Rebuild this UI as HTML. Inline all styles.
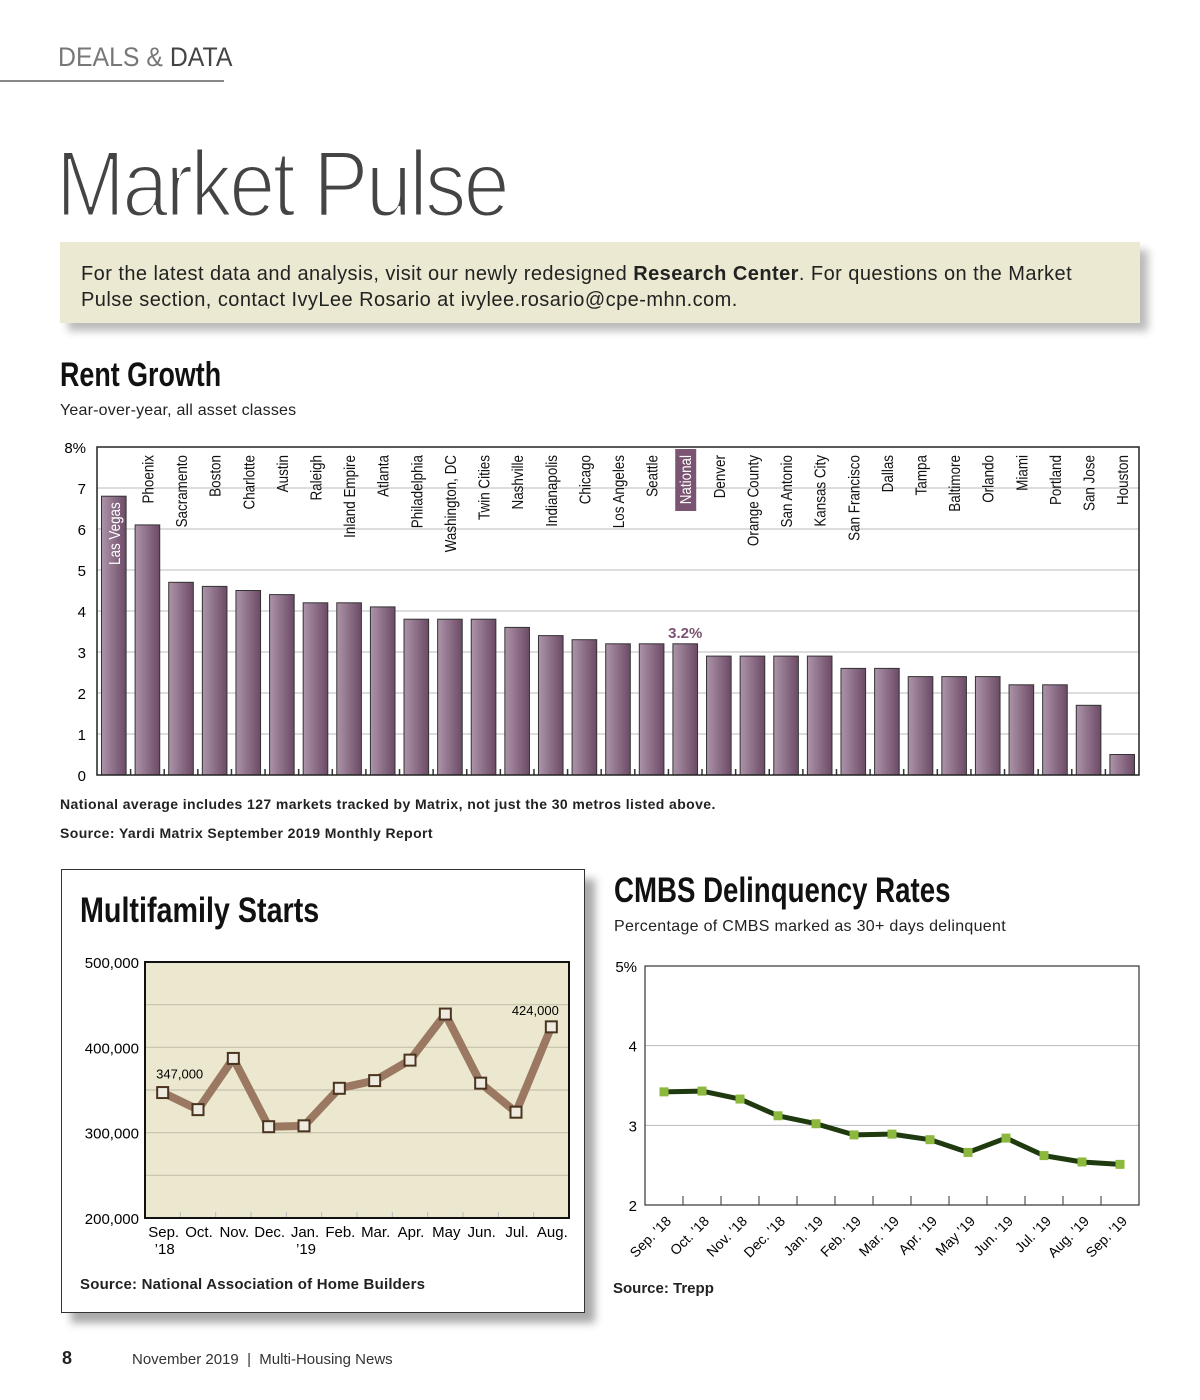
<!DOCTYPE html>
<html><head><meta charset="utf-8">
<style>
body{margin:0;width:1200px;height:1400px;background:#fff;position:relative;overflow:hidden;font-family:"Liberation Sans",sans-serif;color:#222}
.a{position:absolute;white-space:nowrap}
.nar{transform-origin:0 0}
</style></head><body>
<div class="a" style="left:58px;top:42px;font-size:27px;color:#777;letter-spacing:0px;transform:scaleX(0.92);transform-origin:0 0">DEALS &amp; <span style="color:#444">DATA</span></div>
<div class="a" style="left:0;top:80px;width:224px;height:2px;background:#888"></div>
<div class="a" style="left:56px;top:130px;font-size:94px;color:#444;letter-spacing:-3px;-webkit-text-stroke:3px #fff;paint-order:normal;transform:scaleX(0.88);transform-origin:0 0">Market Pulse</div>
<div class="a" style="left:60px;top:242px;width:1080px;height:81px;background:#ebe9d1;box-shadow:8px 8px 8px #bbb"></div>
<div class="a" style="left:81px;top:261px;font-size:20px;line-height:26px;color:#222;letter-spacing:0.45px">For the latest data and analysis, visit our newly redesigned <b>Research Center</b>. For questions on the Market<br>Pulse section, contact IvyLee Rosario at ivylee.rosario@cpe-mhn.com.</div>
<div class="a nar" style="left:60px;top:356px;font-size:34px;font-weight:bold;color:#111;transform:scaleX(0.79)">Rent Growth</div>
<div class="a" style="left:60px;top:402px;font-size:16px;letter-spacing:0.2px">Year-over-year, all asset classes</div>
<div class="a" style="left:60px;top:796px;font-size:14px;font-weight:bold;letter-spacing:0.4px">National average includes 127 markets tracked by Matrix, not just the 30 metros listed above.</div>
<div class="a" style="left:60px;top:825px;font-size:14px;font-weight:bold;letter-spacing:0.4px">Source: Yardi Matrix September 2019 Monthly Report</div>
<div class="a" style="left:61px;top:869px;width:522px;height:442px;border:1px solid #333;box-shadow:10px 10px 8px #aaa;background:#fff"></div>
<div class="a nar" style="left:80px;top:891px;font-size:35px;font-weight:bold;color:#111;transform:scaleX(0.82)">Multifamily Starts</div>
<div class="a" style="left:80px;top:1276px;font-size:15px;font-weight:bold;letter-spacing:0.2px">Source: National Association of Home Builders</div>
<div class="a nar" style="left:614px;top:871px;font-size:35px;font-weight:bold;color:#111;transform:scaleX(0.79)">CMBS Delinquency Rates</div>
<div class="a" style="left:614px;top:918px;font-size:16px;letter-spacing:0.3px">Percentage of CMBS marked as 30+ days delinquent</div>
<div class="a" style="left:613px;top:1280px;font-size:15px;font-weight:bold">Source: Trepp</div>
<div class="a" style="left:62px;top:1348px;font-size:18px;font-weight:bold">8</div>
<div class="a" style="left:132px;top:1351px;font-size:15px;color:#333">November 2019 &nbsp;|&nbsp; Multi-Housing News</div>
<svg id="s" width="1200" height="1400" style="position:absolute;left:0;top:0">
<defs><linearGradient id="bg" x1="0" x2="1" y1="0" y2="0"><stop offset="0" stop-color="#ad94a9"/><stop offset="1" stop-color="#6c4a66"/></linearGradient></defs>
</svg>
<script>
const rentCities=["Las Vegas","Phoenix","Sacramento","Boston","Charlotte","Austin","Raleigh","Inland Empire","Atlanta","Philadelphia","Washington, DC","Twin Cities","Nashville","Indianapolis","Chicago","Los Angeles","Seattle","National","Denver","Orange County","San Antonio","Kansas City","San Francisco","Dallas","Tampa","Baltimore","Orlando","Miami","Portland","San Jose","Houston"];
const rentValues=[6.8,6.1,4.7,4.6,4.5,4.4,4.2,4.2,4.1,3.8,3.8,3.8,3.6,3.4,3.3,3.2,3.2,3.2,2.9,2.9,2.9,2.9,2.6,2.6,2.4,2.4,2.4,2.2,2.2,1.7,0.5];
const rentTicks=["0","1","2","3","4","5","6","7","8%"];
const startMonths=["Sep.","Oct.","Nov.","Dec.","Jan.","Feb.","Mar.","Apr.","May","Jun.","Jul.","Aug."];
const startYears=["’18","","","","’19","","","","","","",""];
const startValues=[347000,327000,387000,307000,308000,352000,361000,385000,439000,358000,324000,424000];
const startTicks=["200,000","300,000","400,000","500,000"];
const cmbsMonths=["Sep. ’18","Oct. ’18","Nov. ’18","Dec. ’18","Jan. ’19","Feb. ’19","Mar. ’19","Apr. ’19","May ’19","Jun. ’19","Jul. ’19","Aug. ’19","Sep. ’19"];
const cmbsValues=[3.42,3.43,3.33,3.12,3.02,2.88,2.89,2.82,2.66,2.84,2.62,2.54,2.51];
const cmbsTicks=["2","3","4","5%"];
const S=document.getElementById('s'),NS="http://www.w3.org/2000/svg";
function mk(t,a,txt){const e=document.createElementNS(NS,t);for(const k in a)e.setAttribute(k,a[k]);if(txt!=null)e.textContent=txt;S.appendChild(e);return e;}
// Rent growth
{const L=97,R=1139,T=447,B=775,n=rentCities.length,bw=(R-L)/n;
const y=v=>B-(v/8)*(B-T),x=i=>L+i*bw;
for(let k=1;k<8;k++){const g=mk('line',{x1:L,x2:R,y1:y(k),y2:y(k),stroke:'#bbb','stroke-width':1});}
rentTicks.forEach((t,k)=>{const e=mk('text',{x:86,y:y(k)+6,'text-anchor':'end','font-size':15,'font-family':'Liberation Sans'},t);});
rentValues.forEach((v,i)=>{const r=mk('rect',{x:x(i)+4.5,y:y(v),width:bw-9,height:B-y(v),fill:'url(#bg)',stroke:'#333','stroke-width':1});
const cx=x(i)+bw/2;
if(rentCities[i]==="National"){const hb=mk('rect',{x:cx-10,y:T+2,width:21,height:62,fill:'#7a5472'});
const vl=mk('text',{x:cx,y:y(v)-6,'text-anchor':'middle','font-size':15,'font-weight':'bold',fill:'#7a5472'},v.toFixed(1)+'%');}
const inside=i===0;
const lb=mk('text',{transform:inside?`translate(${cx+6},${B-210}) rotate(-90) scale(0.84,1)`:`translate(${cx+6},${T+8}) rotate(-90) scale(0.84,1)`,'text-anchor':inside?'start':'end','font-size':16,fill:(inside||rentCities[i]==="National")?'#fff':'#111'},rentCities[i]);

if(i>0){const tk=mk('line',{x1:x(i),x2:x(i),y1:B,y2:B-6,stroke:'#333','stroke-width':1.5});}});
const fr=mk('rect',{x:L,y:T,width:R-L,height:B-T,fill:'none',stroke:'#222','stroke-width':1.5});}
// Multifamily starts
{const L=145,R=569,T=962,B=1218,n=startValues.length,bw=(R-L)/n;
const y=v=>B-(v-200000)/300000*(B-T),x=i=>L+bw*(i+0.5);
const bgr=mk('rect',{x:L,y:T,width:R-L,height:B-T,fill:'#ece8cf'});
for(let v=250000;v<500000;v+=50000){const g=mk('line',{x1:L,x2:R,y1:y(v),y2:y(v),stroke:'#c4c0aa','stroke-width':1.2});}
for(let i=1;i<n;i++){const t=mk('line',{x1:L+bw*i,x2:L+bw*i,y1:B,y2:B-6,stroke:'#bbb','stroke-width':1});}
startTicks.forEach((t,k)=>{const e=mk('text',{x:139,y:y(200000+k*100000)+6,'text-anchor':'end','font-size':15},t);});
const ln=mk('polyline',{points:startValues.map((v,i)=>x(i)+','+y(v)).join(' '),fill:'none',stroke:'#9a7862','stroke-width':8,'stroke-linejoin':'round'});
startValues.forEach((v,i)=>{const m=mk('rect',{x:x(i)-5.5,y:y(v)-5.5,width:11,height:11,fill:'#efebe0',stroke:'#4a3420','stroke-width':2});
const a=mk('text',{x:x(i)+1,y:B+19,'text-anchor':'middle','font-size':15},startMonths[i]);
if(startYears[i]){const b=mk('text',{x:x(i)+2,y:B+36,'text-anchor':'middle','font-size':15},startYears[i]);}});
const f=v=>v.toLocaleString('en-US');
const l1=mk('text',{x:x(0)+17,y:y(startValues[0])-14,'text-anchor':'middle','font-size':13},f(startValues[0]));
const l2=mk('text',{x:x(n-1)-16,y:y(startValues[n-1])-12,'text-anchor':'middle','font-size':13},f(startValues[n-1]));
const fr=mk('rect',{x:L,y:T,width:R-L,height:B-T,fill:'none',stroke:'#111','stroke-width':2});}
// CMBS
{const L=645,R=1139,T=966,B=1205,n=cmbsValues.length,bw=(R-L)/n;
const y=v=>B-(v-2)/3*(B-T),x=i=>L+bw*(i+0.5);
[3,4].forEach(v=>{const g=mk('line',{x1:L,x2:R,y1:y(v),y2:y(v),stroke:'#bbb','stroke-width':1});});
cmbsTicks.forEach((t,k)=>{const e=mk('text',{x:637,y:y(2+k)+6,'text-anchor':'end','font-size':15},t);});
for(let i=1;i<n;i++){const t=mk('line',{x1:L+bw*i,x2:L+bw*i,y1:B,y2:B-9,stroke:'#333','stroke-width':1});}
const ln=mk('polyline',{points:cmbsValues.map((v,i)=>x(i)+','+y(v)).join(' '),fill:'none',stroke:'#1f3a0f','stroke-width':5,'stroke-linejoin':'round'});
cmbsValues.forEach((v,i)=>{const m=mk('rect',{x:x(i)-4.5,y:y(v)-4.5,width:9,height:9,fill:'#8cb83e'});
const a=mk('text',{transform:`translate(${x(i)+8},${B+17}) rotate(-45)`,'text-anchor':'end','font-size':14},cmbsMonths[i]);});
const fr=mk('rect',{x:L,y:T,width:R-L,height:B-T,fill:'none',stroke:'#333','stroke-width':1.2});}
</script>
</body></html>
